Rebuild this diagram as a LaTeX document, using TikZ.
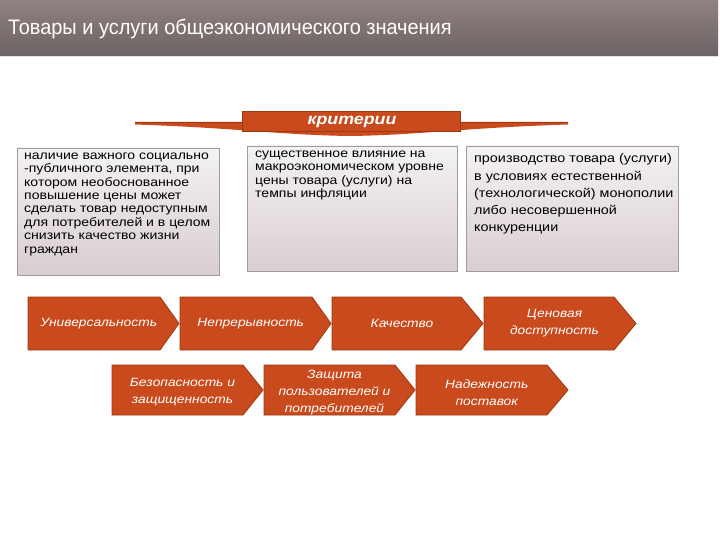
\documentclass[tikz,border=0pt]{standalone}
\usepackage{fontspec}
\setmainfont{Liberation Sans}
\newfontfamily\uzkij[FakeStretch=0.95]{Liberation Sans}
\newfontfamily\shirokij[FakeStretch=1.15]{Liberation Sans}
\usetikzlibrary{calc,positioning}
\definecolor{shapkaverh}{HTML}{918181}
\definecolor{shapkaniz}{HTML}{6C6264}
\definecolor{ryzhij}{HTML}{C94A1C}
\definecolor{ryzhijkraj}{HTML}{9E3812}
\definecolor{ramka}{HTML}{A29A9D}
\definecolor{fonverh}{HTML}{F4F2F3}
\definecolor{fonniz}{HTML}{D8CDD2}
% strelka: [dlina nosa]{imya}{levo}{pravo}{verh}{niz}
\newcommand{\strelka}[6][20]
	{
	\draw[ryzhijkraj,fill=ryzhij,line width=0.8pt] (#3,#5) -- ({#4-#1},#5) -- (#4,{(#5+#6)/2}) -- ({#4-#1},#6) -- (#3,#6) -- cycle;
	\coordinate (#2) at ({(#3+#4-#1/2)/2},{(#5+#6)/2});
	}
\tikzset{
	kriterij/.style={draw=ramka,line width=0.6pt,top color=fonverh,bottom color=fonniz},
	tekst/.style={anchor=north west,align=left,inner sep=0pt,font=\shirokij\fontsize{12.2}{13.4}\selectfont},
	nadpis/.style={text=white,align=center,inner sep=0pt,font=\shirokij\fontsize{12}{17}\selectfont\itshape}
}

\begin{document}
\begin{tikzpicture}[x=1pt,y=-1pt]
\useasboundingbox (0,0) rectangle (720,540);

% shapka
\shade[top color=shapkaverh,bottom color=shapkaniz] (0,0) rectangle (718,56);
\draw[white!80!shapkaniz,line width=1pt] (0,56.5) -- (718,56.5);
\node[anchor=west,text=white,inner sep=0pt,font=\uzkij\fontsize{21}{24}\selectfont] (zagolovok) at (8,29) {Товары и услуги общеэкономического значения};

% lenta kriterii
\fill[ryzhij] (135,122) -- (568,122) -- (568,124.5) .. controls (460,128) and (420,135) .. (350,136) .. controls (280,135) and (240,128) .. (135,124.5) -- cycle;
\draw[ryzhijkraj,line width=1pt] (135,123) -- (568,123);
\draw[ryzhijkraj,fill=ryzhij] (242,111) rectangle (460,131);
\node[text=white,font=\shirokij\fontsize{15.5}{17}\selectfont\bfseries\itshape,inner sep=0pt] (kriterii) at (352,121.5) {критерии};

% tri kriteriya
\draw[kriterij] (17,148) rectangle (219,275);
\node[tekst] (socialnyj) at (24,152.5) {наличие важного социально\\-публичного элемента, при\\котором необоснованное\\повышение цены может\\сделать товар недоступным\\для потребителей и в целом\\снизить качество жизни\\граждан};
\draw[kriterij] (247,146) rectangle (457,271);
\node[tekst] (inflyaciya) at (255,150.5) {существенное влияние на\\макроэкономическом уровне\\цены товара (услуги) на\\темпы инфляции};
\draw[kriterij] (466,146) rectangle (678,271);
\node[tekst,font=\shirokij\fontsize{12.5}{17.3}\selectfont] (monopoliya) at (474,153.5) {производство товара (услуги)\\в условиях естественной\\(технологической) монополии\\либо несовершенной\\конкуренции};

% pervyj ryad
\strelka[19]{u}{28}{179}{297}{350}
\strelka[19]{n}{180}{331}{297}{350}
\strelka[22]{k}{332}{483}{297}{350}
\strelka[22]{c}{484}{636}{297}{350}
\node[nadpis] (universal) at (u) {Универсальность};
\node[nadpis] (nepreryv) at (n) {Непрерывность};
\node[nadpis] (kachestvo) at (k) {Качество};
\node[nadpis] (cena) at (c) {Ценовая\\доступность};

% vtoroj ryad
\strelka[20]{b}{112}{263}{365}{415}
\strelka[20]{z}{264}{415}{365}{415}
\strelka[21]{p}{416}{568}{365}{415}
\node[nadpis,yshift=-2.5pt] (bezopasnost) at (b) {Безопасность и\\защищенность};
\node[nadpis,yshift=-2.5pt] (zashchita) at (z) {Защита\\пользователей и\\потребителей};
\node[nadpis,yshift=-2.5pt] (postavki) at (p) {Надежность\\поставок};

\end{tikzpicture}
\end{document}
